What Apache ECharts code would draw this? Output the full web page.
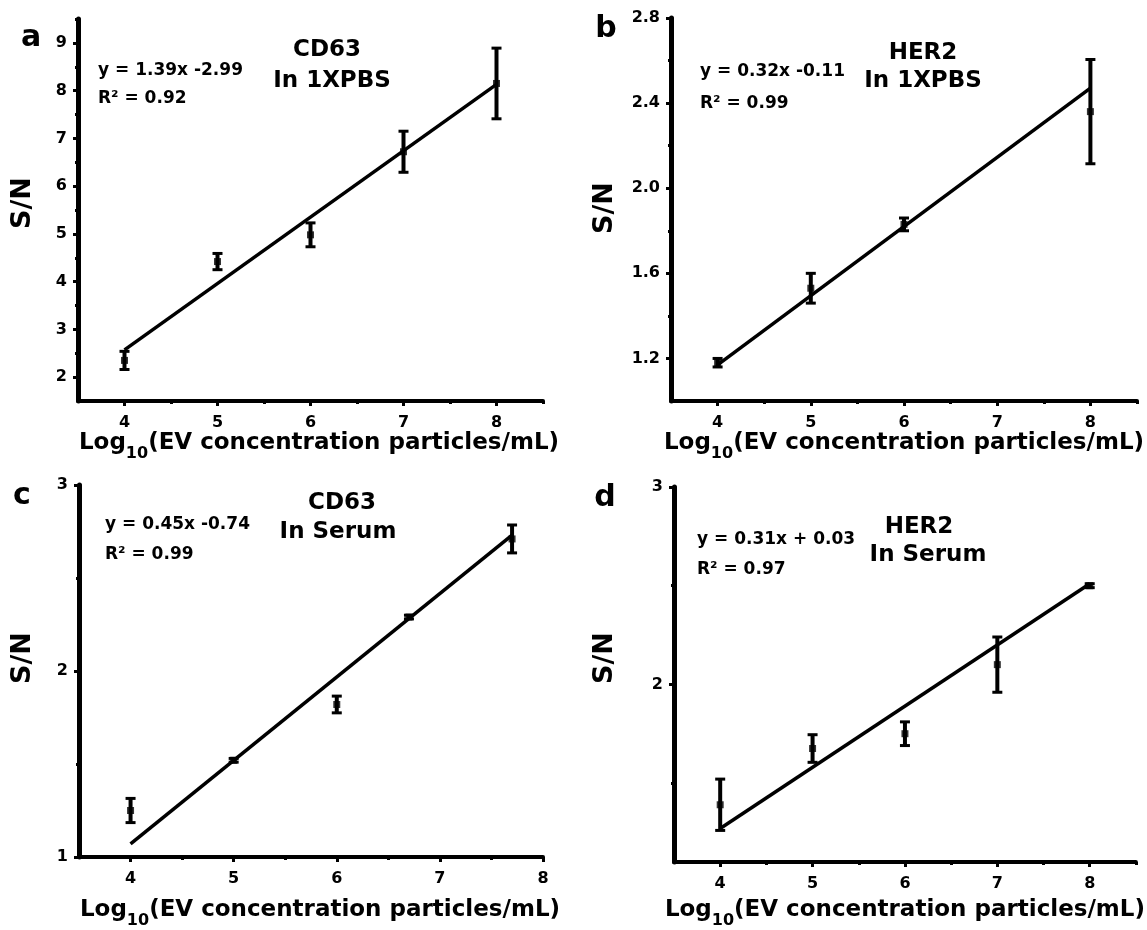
<!DOCTYPE html>
<html><head><meta charset="utf-8">
<script src="https://cdn.jsdelivr.net/npm/echarts@6/dist/echarts.min.js"></script>
<style>html,body{margin:0;padding:0;background:#fff}#c{width:1147px;height:930px}</style>
</head><body><div id="c"></div>
<script>
// ---------------- data ----------------
const xA = [4, 5, 6, 7, 8];
const yA = [2.35, 4.42, 4.98, 6.72, 8.15];
const errA = [0.19, 0.17, 0.25, 0.43, 0.74];
const fitXA = [4, 8];
const fitYA = [2.57, 8.13];

const xB = [4, 5, 6, 8];
const yB = [1.18, 1.53, 1.83, 2.36];
const errB = [0.02, 0.07, 0.03, 0.245];
const fitXB = [4, 8];
const fitYB = [1.17, 2.47];

const xC = [4, 5, 6, 6.7, 7.7];
const yC = [1.25, 1.52, 1.82, 2.29, 2.71];
const errC = [0.065, 0.01, 0.045, 0.01, 0.075];
const fitXC = [4, 7.7];
const fitYC = [1.07, 2.73];

const xD = [4, 5, 6, 7, 8];
const yD = [1.39, 1.675, 1.75, 2.10, 2.50];
const errD = [0.13, 0.07, 0.06, 0.14, 0.01];
const fitXD = [4, 8];
const fitYD = [1.27, 2.51];

// tick values / labels
const xTicks = [4, 5, 6, 7, 8];
const xMinorAB = [4.5, 5.5, 6.5, 7.5, 8.5];
const xMinorC = [4.5, 5.5, 6.5, 7.5];
const yTicksA = [2, 3, 4, 5, 6, 7, 8, 9];
const yMinorA = [2.5, 3.5, 4.5, 5.5, 6.5, 7.5, 8.5, 9.5];
const yTicksB = [1.2, 1.6, 2.0, 2.4, 2.8];
const yMinorB = [1.4, 1.8, 2.2, 2.6];
const yTicksC = [1, 2, 3];
const yMinorC = [1.5, 2.5];
const yTicksD = [2, 3];
const yMinorD = [1.5, 2.5];

// texts
const xTitleParts = ['Log', '10', '(EV concentration particles/mL)'];
const yTitle = 'S/N';
const panelLetters = ['a', 'b', 'c', 'd'];
const eqTexts = ['y = 1.39x -2.99', 'y = 0.32x -0.11', 'y = 0.45x -0.74', 'y = 0.31x + 0.03'];
const r2Texts = ['R\u00B2 = 0.92', 'R\u00B2 = 0.99', 'R\u00B2 = 0.99', 'R\u00B2 = 0.97'];
const titles1 = ['CD63', 'HER2', 'CD63', 'HER2'];
const titles2 = ['In 1XPBS', 'In 1XPBS', 'In Serum', 'In Serum'];

// ---------------- build ----------------
const FONT = 'DejaVu Sans';
const panels = [
  {x: xA, y: yA, e: errA, fx: fitXA, fy: fitYA, xr: [3.5, 8.5], yr: [1.5, 9.5], xm: xTicks, xn: xMinorAB, ym: yTicksA, yn: yMinorA, dec: 0},
  {x: xB, y: yB, e: errB, fx: fitXB, fy: fitYB, xr: [3.5, 8.5], yr: [1.0, 2.8], xm: xTicks, xn: xMinorAB, ym: yTicksB, yn: yMinorB, dec: 1},
  {x: xC, y: yC, e: errC, fx: fitXC, fy: fitYC, xr: [3.5, 8], yr: [1, 3], xm: xTicks, xn: xMinorC, ym: yTicksC, yn: yMinorC, dec: 0},
  {x: xD, y: yD, e: errD, fx: fitXD, fy: fitYD, xr: [3.5, 8.5], yr: [1.1, 3], xm: xTicks, xn: xMinorAB, ym: yTicksD, yn: yMinorD, dec: 0}
];
const layout = [
  {left: 78, top: 19, width: 465, height: 382, nameGap: 30, namePad: 17, letter: [31, 38], eq: [98, 71], r2: [98, 99], t1: [327, 50], t2: [332, 81], sn: [23, 203]},
  {left: 671, top: 18, width: 466, height: 383, nameGap: 31, namePad: 0, letter: [606, 29], eq: [700, 72], r2: [700, 104], t1: [923, 53], t2: [923, 81], sn: [605, 208]},
  {left: 79, top: 485, width: 464, height: 377, nameGap: 42, namePad: 18, letter: [22, 496], eq: [105, 525], r2: [105, 555], t1: [342, 503], t2: [338, 532], sn: [23, 658]},
  {left: 674, top: 487, width: 463, height: 379, nameGap: 37, namePad: 0, letter: [605, 498], eq: [697, 540], r2: [697, 570], t1: [919, 527], t2: [928, 555], sn: [605, 658]}
];

const grids = [], xAxes = [], yAxes = [], series = [], graphics = [];
const lblStyle = {color: '#000', fontFamily: FONT, fontWeight: 'bold', fontSize: 16};

function errRender(params, api) {
  const x = api.value(0), y = api.value(1), e = api.value(2);
  const hi = api.coord([x, y + e]), lo = api.coord([x, y - e]);
  const w = 5;
  return {type: 'group', children: [
    {type: 'line', shape: {x1: hi[0], y1: hi[1], x2: lo[0], y2: lo[1]}, style: {stroke: '#000', lineWidth: 4}},
    {type: 'line', shape: {x1: hi[0] - w, y1: hi[1], x2: hi[0] + w, y2: hi[1]}, style: {stroke: '#000', lineWidth: 3}},
    {type: 'line', shape: {x1: lo[0] - w, y1: lo[1], x2: lo[0] + w, y2: lo[1]}, style: {stroke: '#000', lineWidth: 3}}
  ]};
}

panels.forEach((p, i) => {
  const L = layout[i];
  grids.push({left: L.left, top: L.top, width: L.width, height: L.height, containLabel: false});
  xAxes.push({
    gridIndex: i, type: 'value', position: 'bottom', min: p.xr[0], max: p.xr[1],
    axisLine: {show: true, onZero: false, lineStyle: {color: '#000', width: 4}},
    axisTick: {show: true, customValues: p.xm, length: 5, lineStyle: {color: '#000', width: 3}},
    axisLabel: Object.assign({customValues: p.xm, margin: 14, formatter: v => String(v)}, lblStyle),
    splitLine: {show: false},
    name: '{a|' + xTitleParts[0] + '}{b|' + xTitleParts[1] + '}{a|' + xTitleParts[2] + '}',
    nameLocation: 'middle', nameGap: L.nameGap,
    nameTextStyle: {
      padding: [0, 0, 0, L.namePad],
      rich: {
        a: {fontFamily: FONT, fontWeight: 'bold', fontSize: 23, color: '#000', verticalAlign: 'top'},
        b: {fontFamily: FONT, fontWeight: 'bold', fontSize: 16, color: '#000', verticalAlign: 'bottom', padding: [14, 0, 0, 0]}
      }
    }
  });
  xAxes.push({
    gridIndex: i, type: 'value', position: 'bottom', min: p.xr[0], max: p.xr[1],
    axisLine: {show: false, onZero: false},
    axisTick: {show: true, customValues: p.xn, length: 3, lineStyle: {color: '#000', width: 3}},
    axisLabel: {show: false}, splitLine: {show: false}
  });
  yAxes.push({
    gridIndex: i, type: 'value', position: 'left', min: p.yr[0], max: p.yr[1],
    axisLine: {show: true, onZero: false, lineStyle: {color: '#000', width: 5}},
    axisTick: {show: true, customValues: p.ym, length: 5, lineStyle: {color: '#000', width: 3}},
    axisLabel: Object.assign({customValues: p.ym, margin: 11, formatter: v => Number(v).toFixed(p.dec)}, lblStyle),
    splitLine: {show: false}
  });
  yAxes.push({
    gridIndex: i, type: 'value', position: 'left', min: p.yr[0], max: p.yr[1],
    axisLine: {show: false, onZero: false},
    axisTick: {show: true, customValues: p.yn, length: 3, lineStyle: {color: '#000', width: 3}},
    axisLabel: {show: false}, splitLine: {show: false}
  });
  const xi = 2 * i, yi = 2 * i;
  series.push({
    type: 'line', xAxisIndex: xi, yAxisIndex: yi, showSymbol: false, symbol: 'none',
    data: p.fx.map((v, k) => [v, p.fy[k]]),
    lineStyle: {color: '#000', width: 3.5}, z: 2, silent: true
  });
  series.push({
    type: 'custom', xAxisIndex: xi, yAxisIndex: yi, renderItem: errRender,
    encode: {x: 0, y: 1}, data: p.x.map((v, k) => [v, p.y[k], p.e[k]]), z: 3, silent: true
  });
  series.push({
    type: 'scatter', xAxisIndex: xi, yAxisIndex: yi, symbol: 'rect', symbolSize: 7,
    itemStyle: {color: '#000'}, data: p.x.map((v, k) => [v, p.y[k]]), z: 4, silent: true
  });

  const txt = (pos, text, size, align, extra) => Object.assign({
    type: 'text', x: pos[0], y: pos[1], silent: true,
    style: {text: text, fill: '#000', fontFamily: FONT, fontWeight: 'bold', fontSize: size, align: align, verticalAlign: 'middle'}
  }, extra || {});
  graphics.push(txt(L.letter, panelLetters[i], 30, 'center'));
  graphics.push(txt(L.eq, eqTexts[i], 17, 'left'));
  graphics.push(txt(L.r2, r2Texts[i], 17, 'left'));
  graphics.push(txt(L.t1, titles1[i], 23, 'center'));
  graphics.push(txt(L.t2, titles2[i], 23, 'center'));
  graphics.push(txt(L.sn, yTitle, 27, 'center', {rotation: Math.PI / 2}));
});

const chart = echarts.init(document.getElementById('c'), null, {renderer: 'canvas'});
chart.setOption({
  animation: false,
  backgroundColor: '#fff',
  grid: grids, xAxis: xAxes, yAxis: yAxes, series: series, graphic: graphics
});
</script>
</body></html>
